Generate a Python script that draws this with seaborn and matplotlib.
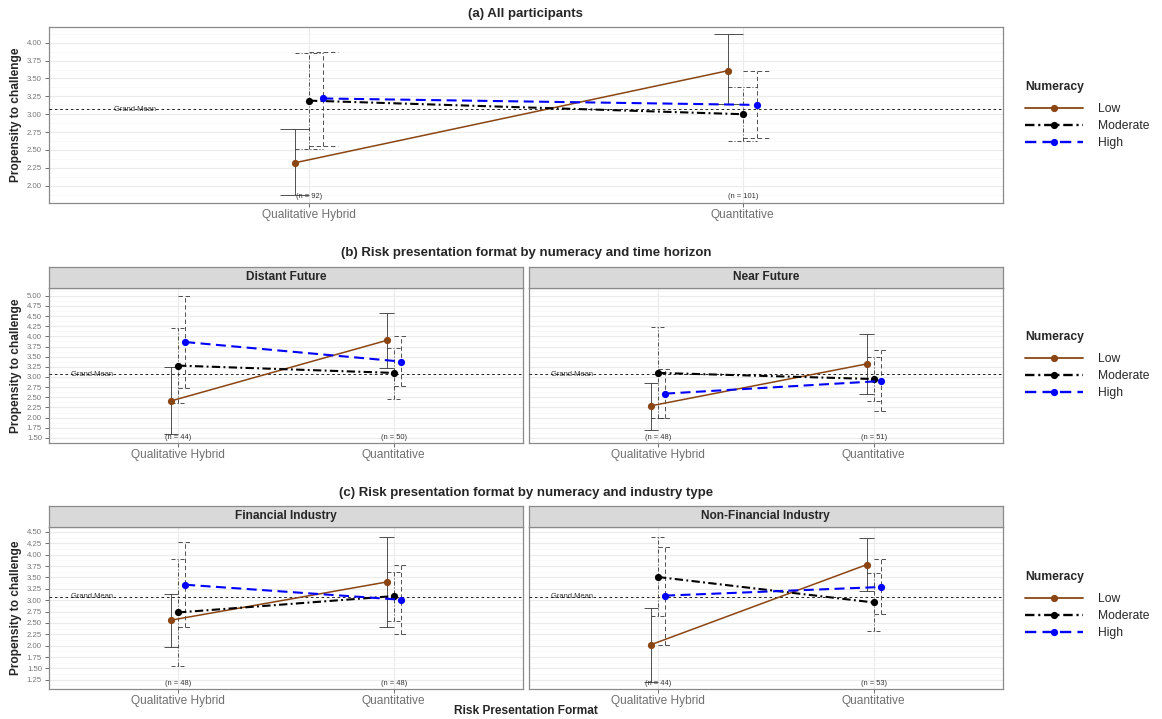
import numpy as np
import pandas as pd
import matplotlib
matplotlib.use("Agg")
import matplotlib.pyplot as plt
import seaborn as sns
from matplotlib.lines import Line2D

sns.set_style("white")
plt.rcParams["font.family"] = ["Liberation Sans", "DejaVu Sans"]

# ---------------- data ----------------
formats = ["Qualitative Hybrid", "Quantitative"]
numeracy = ["Low", "Moderate", "High"]
grand_mean = 3.07

# (a) All participants
all_mean = {"Low": [2.32, 3.61], "Moderate": [3.19, 3.00], "High": [3.22, 3.13]}
all_lo = {"Low": [1.87, 3.14], "Moderate": [2.52, 2.62], "High": [2.55, 2.67]}
all_hi = {"Low": [2.79, 4.12], "Moderate": [3.86, 3.38], "High": [3.87, 3.61]}
all_n = [92, 101]

# (b) Distant Future
distant_mean = {"Low": [2.41, 3.90], "Moderate": [3.28, 3.10], "High": [3.86, 3.38]}
distant_lo = {"Low": [1.60, 3.23], "Moderate": [2.36, 2.47], "High": [2.72, 2.77]}
distant_hi = {"Low": [3.25, 4.58], "Moderate": [4.20, 3.72], "High": [5.00, 4.00]}
distant_n = [44, 50]

# (b) Near Future
near_mean = {"Low": [2.29, 3.32], "Moderate": [3.10, 2.95], "High": [2.59, 2.90]}
near_lo = {"Low": [1.70, 2.59], "Moderate": [1.98, 2.41], "High": [1.98, 2.16]}
near_hi = {"Low": [2.86, 4.06], "Moderate": [4.23, 3.50], "High": [3.20, 3.66]}
near_n = [48, 51]

# (c) Financial Industry
fin_mean = {"Low": [2.56, 3.40], "Moderate": [2.73, 3.09], "High": [3.34, 3.01]}
fin_lo = {"Low": [1.98, 2.42], "Moderate": [1.56, 2.55], "High": [2.41, 2.26]}
fin_hi = {"Low": [3.14, 4.38], "Moderate": [3.90, 3.61], "High": [4.28, 3.77]}
fin_n = [48, 48]

# (c) Non-Financial Industry
nonfin_mean = {"Low": [2.02, 3.78], "Moderate": [3.51, 2.95], "High": [3.10, 3.29]}
nonfin_lo = {"Low": [1.21, 3.21], "Moderate": [2.65, 2.32], "High": [2.01, 2.69]}
nonfin_hi = {"Low": [2.82, 4.36], "Moderate": [4.40, 3.59], "High": [4.18, 3.91]}
nonfin_n = [44, 53]

# ---------------- styles ----------------
colors = {"Low": "#8B4513", "Moderate": "#000000", "High": "#0000FF"}
line_lw = {"Low": 1.1, "Moderate": 1.5, "High": 1.5}
line_ls = {"Low": "-", "Moderate": (0, (4.0, 1.6, 0.9, 1.6)), "High": (0, (4.8, 2.6))}
err_ls = {"Low": "-", "Moderate": (0, (4.8, 2.4, 1.2, 2.4)), "High": (0, (5.2, 3.4))}
offsets = {"Low": -0.033, "Moderate": 0.0, "High": 0.033}
cap_half = 0.033

W, H = 1162, 719
fig = plt.figure(figsize=(W / 100, H / 100), dpi=100)


def rect(x0, x1, y0, y1):
    return [x0 / W, 1 - y1 / H, (x1 - x0) / W, (y1 - y0) / H]


def build_df(mean, lo, hi):
    rows = []
    for lvl in numeracy:
        for i, f in enumerate(formats):
            rows.append({"format": f, "numeracy": lvl, "mean": mean[lvl][i],
                         "lo": lo[lvl][i], "hi": hi[lvl][i]})
    df = pd.DataFrame(rows)
    df["xpos"] = df["format"].map({f: i for i, f in enumerate(formats)}) + df["numeracy"].map(offsets)
    return df


def draw_panel(ax, df, ns, ylim, yticks):
    ax.set_facecolor("white")
    ax.set_xlim(-0.6, 1.6)
    ax.set_ylim(*ylim)
    ax.set_yticks(yticks)
    ax.set_yticklabels([f"{t:.2f}" for t in yticks])
    minor = np.arange(yticks[0] - 0.125, ylim[1], 0.25)
    ax.set_yticks(minor, minor=True)
    ax.set_xticks(range(len(formats)))
    ax.set_xticklabels(formats)
    ax.grid(which="major", axis="both", color="#EBEBEB", lw=0.8)
    ax.grid(which="minor", axis="y", color="#F5F5F5", lw=0.5)
    ax.set_axisbelow(True)
    ax.tick_params(which="minor", length=0)
    ax.tick_params(axis="y", which="major", length=2.7, width=0.6, color="#555555",
                   labelsize=5.6, labelcolor="#777777", pad=2.2, left=True)
    ax.tick_params(axis="x", which="major", length=2.7, width=0.6, color="#555555",
                   labelsize=8.6, labelcolor="#707070", pad=1.5, bottom=True)
    for s in ax.spines.values():
        s.set_color("#8A8A8A")
        s.set_linewidth(0.9)

    # grand mean
    ax.axhline(grand_mean, color="black", lw=0.6, dashes=(3.2, 3.2), zorder=3)
    ax.text(-0.4, grand_mean, "Grand Mean", ha="center", va="center", fontsize=5.4,
            color="#333333", zorder=2)

    # error bars
    for lvl in numeracy:
        sub = df[df["numeracy"] == lvl]
        ax.vlines(sub["xpos"], sub["lo"], sub["hi"], colors="#333333", lw=0.6,
                  linestyles=[err_ls[lvl]], zorder=4)
        for col in ("lo", "hi"):
            ax.hlines(sub[col], sub["xpos"] - cap_half, sub["xpos"] + cap_half,
                      colors="#333333", lw=0.6, linestyles=[err_ls[lvl]], zorder=4)

    # lines + points
    for lvl in numeracy:
        sub = df[df["numeracy"] == lvl]
        sns.lineplot(data=sub, x="xpos", y="mean", color=colors[lvl], lw=line_lw[lvl],
                     linestyle=line_ls[lvl], marker="o", markersize=5.2,
                     markeredgewidth=0, estimator=None, ax=ax, legend=False, zorder=5)

    # n labels
    for i, n in enumerate(ns):
        ax.text(i, 0.036, f"(n = {n})", transform=ax.get_xaxis_transform(),
                ha="center", va="center", fontsize=5.4, color="#333333", zorder=6)
    ax.set_xlabel("")
    ax.set_ylabel("")


def strip(x0, x1, y0, y1, label):
    sax = fig.add_axes(rect(x0, x1, y0, y1))
    sax.set_facecolor("#D9D9D9")
    sax.set_xticks([])
    sax.set_yticks([])
    for s in sax.spines.values():
        s.set_color("#8A8A8A")
        s.set_linewidth(0.9)
    sax.text(0.5, 0.5, label, ha="center", va="center", fontsize=8.6,
             fontweight="bold", transform=sax.transAxes)


def legend_at(x, ytop):
    handles = [Line2D([], [], color=colors[l], lw=line_lw[l] + 0.2, linestyle=line_ls[l],
                      marker="o", markersize=5.2, markeredgewidth=0) for l in numeracy]
    leg = fig.legend(handles, numeracy, title="Numeracy", loc="upper left",
                     bbox_to_anchor=(x / W, 1 - ytop / H), frameon=False,
                     handlelength=4.8, handletextpad=1.25, labelspacing=0.4,
                     borderpad=0, borderaxespad=0, fontsize=8.7, numpoints=1,
                     title_fontproperties={"weight": "bold", "size": 8.7},
                     alignment="left")
    leg._legend_box.sep = 7.5
    return leg


L, R = 48.7, 1003.0
FL1, FR1, FL2, FR2 = 48.7, 523.1, 528.6, 1003.0
CX = (L + R) / 2

# ---------- panel (a) ----------
ax_a = fig.add_axes(rect(L, R, 26.7, 203))
draw_panel(ax_a, build_df(all_mean, all_lo, all_hi), all_n, (1.758, 4.224),
           np.arange(2.0, 4.001, 0.25))
fig.text(CX / W, 1 - 14 / H, "(a) All participants", ha="center", va="center",
         fontsize=9.5, fontweight="bold")
fig.text(16.5 / W, 1 - 115 / H, "Propensity to challenge", rotation=90, ha="center",
         va="center", fontsize=8.6, fontweight="bold")
legend_at(1025, 81)

# ---------- panel (b) ----------
yt_b = np.arange(1.5, 5.001, 0.25)
ax_b1 = fig.add_axes(rect(FL1, FR1, 288, 443))
draw_panel(ax_b1, build_df(distant_mean, distant_lo, distant_hi), distant_n, (1.42, 5.19), yt_b)
ax_b2 = fig.add_axes(rect(FL2, FR2, 288, 443))
draw_panel(ax_b2, build_df(near_mean, near_lo, near_hi), near_n, (1.42, 5.19), yt_b)
ax_b2.tick_params(axis="y", left=False, labelleft=False)
strip(FL1, FR1, 267, 288, "Distant Future")
strip(FL2, FR2, 267, 288, "Near Future")
fig.text(CX / W, 1 - 253 / H, "(b) Risk presentation format by numeracy and time horizon",
         ha="center", va="center", fontsize=9.5, fontweight="bold")
fig.text(16.5 / W, 1 - 365.5 / H, "Propensity to challenge", rotation=90, ha="center",
         va="center", fontsize=8.6, fontweight="bold")
legend_at(1025, 331)

# ---------- panel (c) ----------
yt_c = np.arange(1.25, 4.501, 0.25)
ax_c1 = fig.add_axes(rect(FL1, FR1, 527, 689))
draw_panel(ax_c1, build_df(fin_mean, fin_lo, fin_hi), fin_n, (1.046, 4.61), yt_c)
ax_c2 = fig.add_axes(rect(FL2, FR2, 527, 689))
draw_panel(ax_c2, build_df(nonfin_mean, nonfin_lo, nonfin_hi), nonfin_n, (1.046, 4.61), yt_c)
ax_c2.tick_params(axis="y", left=False, labelleft=False)
strip(FL1, FR1, 506, 527, "Financial Industry")
strip(FL2, FR2, 506, 527, "Non-Financial Industry")
fig.text(CX / W, 1 - 493 / H, "(c) Risk presentation format by numeracy and industry type",
         ha="center", va="center", fontsize=9.5, fontweight="bold")
fig.text(16.5 / W, 1 - 608 / H, "Propensity to challenge", rotation=90, ha="center",
         va="center", fontsize=8.6, fontweight="bold")
fig.text(CX / W, 1 - 711 / H, "Risk Presentation Format", ha="center", va="center",
         fontsize=8.6, fontweight="bold")
legend_at(1025, 571)

fig.savefig("out.png", dpi=100)
